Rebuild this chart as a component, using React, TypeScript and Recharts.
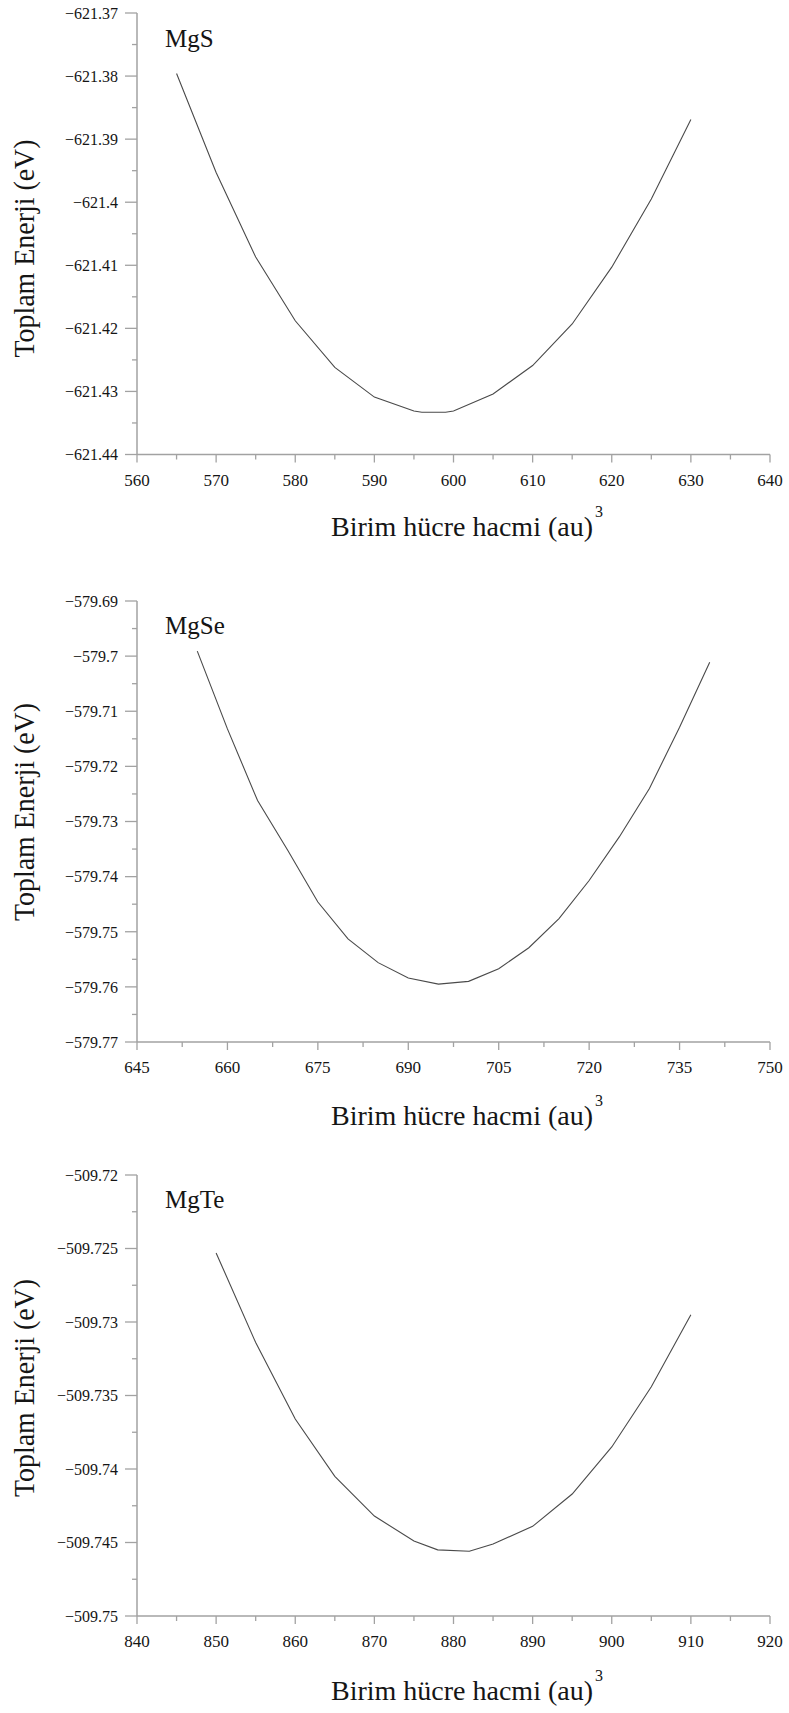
import React from 'react';
import { LineChart, Line, XAxis, YAxis, Label } from 'recharts';

// MgS
const mgsVolume = [565, 570, 575, 580, 585, 590, 595, 596, 599, 600, 605, 610, 615, 620, 625, 630];
const mgsEnergy = [
  -621.3796, -621.3953, -621.4087, -621.4188, -621.4262, -621.4309, -621.4331, -621.4333, -621.4333,
  -621.4331, -621.4304, -621.4259, -621.4193, -621.4103, -621.3995, -621.3869,
];
const mgsXTicks = [560, 570, 580, 590, 600, 610, 620, 630, 640];
const mgsYTicks = [-621.44, -621.43, -621.42, -621.41, -621.4, -621.39, -621.38, -621.37];

// MgSe
const mgseVolume = [655, 660, 665, 670, 675, 680, 685, 690, 695, 700, 705, 710, 715, 720, 725, 730, 735, 740];
const mgseEnergy = [
  -579.6991, -579.7132, -579.7262, -579.7352, -579.7446, -579.7513, -579.7556, -579.7584, -579.7595,
  -579.759, -579.7567, -579.7529, -579.7476, -579.7407, -579.7328, -579.724, -579.7129, -579.7011,
];
const mgseXTicks = [645, 660, 675, 690, 705, 720, 735, 750];
const mgseYTicks = [-579.77, -579.76, -579.75, -579.74, -579.73, -579.72, -579.71, -579.7, -579.69];

// MgTe
const mgteVolume = [850, 855, 860, 865, 870, 875, 878, 882, 885, 890, 895, 900, 905, 910];
const mgteEnergy = [
  -509.7253, -509.7314, -509.7366, -509.7405, -509.7432, -509.7449, -509.7455, -509.7456,
  -509.7451, -509.7439, -509.7417, -509.7385, -509.7344, -509.7295,
];
const mgteXTicks = [840, 850, 860, 870, 880, 890, 900, 910, 920];
const mgteYTicks = [-509.75, -509.745, -509.74, -509.735, -509.73, -509.725, -509.72];

const FONT = "'Liberation Serif', 'Times New Roman', Times, serif";
const AXIS = '#a2a2a2';
const CURVE = '#4a4a4a';
const INK = '#151515';
const PLOT_LEFT = 137;
const PLOT_RIGHT = 770;
const W = 789;
const X_AXIS_H = 92;

// major ticks plus a minor one halfway between each pair
const withMinor = (majors: number[]) => {
  const out = [...majors];
  for (let i = 0; i < majors.length - 1; i++) out.push((majors[i] + majors[i + 1]) / 2);
  return out.sort((a, b) => a - b);
};
const isMajor = (v: number, majors: number[]) => majors.some((m) => Math.abs(m - v) < 1e-9);
const fmt = (v: number) => String(v).replace('-', '\u2212');

interface PanelProps {
  name: string;
  volume: number[];
  energy: number[];
  xTicks: number[];
  yTicks: number[];
  plotTop: number;
  plotBottom: number;
  yLabelMid: number;
  nameBaseline: number;
  xLabelBaseline: number;
}

const Panel: React.FC<PanelProps> = ({
  name, volume, energy, xTicks, yTicks, plotTop, plotBottom, yLabelMid, nameBaseline, xLabelBaseline,
}) => {
  const top = plotTop - 12;
  const height = plotBottom - top + X_AXIS_H;
  const data = volume.map((v, i) => ({ volume: v, energy: energy[i] }));
  const xDomain = [xTicks[0], xTicks[xTicks.length - 1]];
  const yDomain = [yTicks[0], yTicks[yTicks.length - 1]];

  const renderYTick = (p: any) => {
    const major = isMajor(p.payload.value, yTicks);
    return (
      <g>
        <line x1={p.x - (major ? 12 : 5)} x2={p.x} y1={p.y} y2={p.y} stroke={AXIS} strokeWidth={1.3} />
        {major && (
          <text x={p.x - 19} y={p.y} dy="0.36em" textAnchor="end" fontFamily={FONT} fontSize={16} fill={INK}>
            {fmt(p.payload.value)}
          </text>
        )}
      </g>
    );
  };

  const renderXTick = (p: any) => {
    const major = isMajor(p.payload.value, xTicks);
    return (
      <g>
        <line x1={p.x} x2={p.x} y1={p.y} y2={p.y + (major ? 8 : 5)} stroke={AXIS} strokeWidth={1.3} />
        {major && (
          <text x={p.x} y={p.y + 31} textAnchor="middle" fontFamily={FONT} fontSize={17} fill={INK}>
            {fmt(p.payload.value)}
          </text>
        )}
      </g>
    );
  };

  return (
    <div style={{ position: 'absolute', left: 0, top, width: W, height }}>
      <LineChart
        width={W}
        height={height}
        data={data}
        margin={{ top: plotTop - top, right: W - PLOT_RIGHT, left: 0, bottom: 0 }}
      >
        <XAxis
          dataKey="volume"
          type="number"
          domain={xDomain}
          ticks={withMinor(xTicks)}
          interval={0}
          allowDataOverflow
          height={X_AXIS_H}
          tickSize={0}
          tickMargin={0}
          tickLine={false}
          axisLine={{ stroke: AXIS, strokeWidth: 1.5 }}
          tick={renderXTick}
        >
          <Label
            content={() => (
              <text x={331} y={xLabelBaseline - top} fontFamily={FONT} fontSize={28} fill={INK}>
                Birim hücre hacmi (au)
                <tspan dy={-19} dx={2} fontSize={16}>3</tspan>
              </text>
            )}
          />
        </XAxis>
        <XAxis
          xAxisId="top"
          orientation="top"
          dataKey="volume"
          type="number"
          domain={xDomain}
          height={0}
          tick={false}
          tickLine={false}
          axisLine={{ stroke: AXIS, strokeWidth: 1.5 }}
        />
        <YAxis
          type="number"
          domain={yDomain}
          ticks={withMinor(yTicks)}
          interval={0}
          allowDataOverflow
          width={PLOT_LEFT}
          tickSize={0}
          tickMargin={0}
          tickLine={false}
          axisLine={{ stroke: AXIS, strokeWidth: 1.5 }}
          tick={renderYTick}
        >
          <Label
            content={() => (
              <text
                x={0}
                y={0}
                transform={`translate(34, ${yLabelMid - top}) rotate(-90)`}
                textAnchor="middle"
                fontFamily={FONT}
                fontSize={30}
                textLength={218}
                lengthAdjust="spacingAndGlyphs"
                fill={INK}
              >
                Toplam Enerji (eV)
              </text>
            )}
          />
        </YAxis>
        <YAxis
          yAxisId="right"
          orientation="right"
          type="number"
          domain={yDomain}
          width={0}
          tick={false}
          tickLine={false}
          axisLine={{ stroke: AXIS, strokeWidth: 1.5 }}
        />
        <Line
          dataKey="energy"
          type="linear"
          stroke={CURVE}
          strokeWidth={1.1}
          dot={false}
          isAnimationActive={false}
        />
      </LineChart>
      <svg width={W} height={height} style={{ position: 'absolute', left: 0, top: 0, pointerEvents: 'none' }}>
        <text x={165} y={nameBaseline - top} fontFamily={FONT} fontSize={25} fill={INK}>
          {name}
        </text>
      </svg>
    </div>
  );
};

const App: React.FC = () => {
  return (
    <div style={{ position: 'absolute', left: 0, top: 0, width: W, height: 1713, background: '#fff' }}>
      <Panel
        name="MgS"
        volume={mgsVolume}
        energy={mgsEnergy}
        xTicks={mgsXTicks}
        yTicks={mgsYTicks}
        plotTop={12.5}
        plotBottom={454}
        yLabelMid={248}
        nameBaseline={46.5}
        xLabelBaseline={535}
      />
      <Panel
        name="MgSe"
        volume={mgseVolume}
        energy={mgseEnergy}
        xTicks={mgseXTicks}
        yTicks={mgseYTicks}
        plotTop={601}
        plotBottom={1042}
        yLabelMid={812}
        nameBaseline={633.5}
        xLabelBaseline={1125}
      />
      <Panel
        name="MgTe"
        volume={mgteVolume}
        energy={mgteEnergy}
        xTicks={mgteXTicks}
        yTicks={mgteYTicks}
        plotTop={1175}
        plotBottom={1616}
        yLabelMid={1388}
        nameBaseline={1207.5}
        xLabelBaseline={1700}
      />
    </div>
  );
};

export default App;
